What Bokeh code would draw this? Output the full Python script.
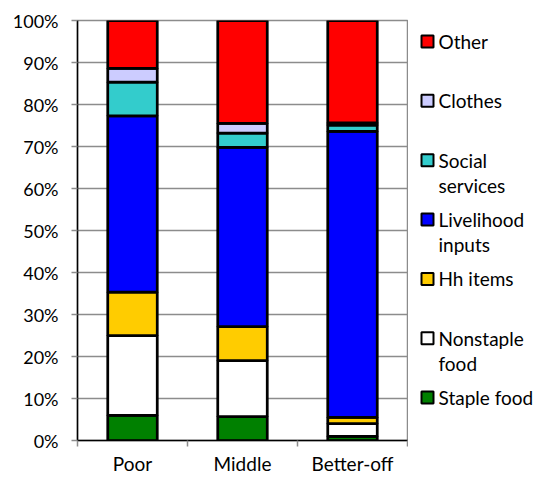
from bokeh.plotting import figure
from bokeh.layouts import row
from bokeh.models import Range1d, FixedTicker, NumeralTickFormatter, ColumnDataSource
from bokeh.core.properties import value
from bokeh.embed import file_html
from bokeh.resources import INLINE

categories = ["Poor", "Middle", "Better-off"]
series = ["Staple food", "Nonstaple food", "Hh items", "Livelihood inputs",
          "Social services", "Clothes", "Other"]
legend_labels = ["Staple food", "Nonstaple\nfood", "Hh items", "Livelihood\ninputs",
                 "Social\nservices", "Clothes", "Other"]
colors = ["#008000", "#FFFFFF", "#FFCC00", "#0000FF", "#33CCCC", "#CCCCFF", "#FF0000"]

staple_food = [6.0, 5.7, 1.0]
nonstaple_food = [19.0, 13.3, 3.0]
hh_items = [10.3, 8.1, 1.5]
livelihood_inputs = [42.0, 42.7, 68.1]
social_services = [8.0, 3.4, 1.5]
clothes = [3.3, 2.3, 0.5]
other = [11.4, 24.5, 24.4]

y_ticks = [i / 10 for i in range(11)]

FONT = "Lato"
values_list = [staple_food, nonstaple_food, hh_items, livelihood_inputs,
               social_services, clothes, other]

data = {"x": [i + 0.5 for i in range(len(categories))]}
for name, vals in zip(series, values_list):
    data[name] = [v / 100 for v in vals]
source = ColumnDataSource(data)

MAIN_W, H = 408, 477
FR_TOP, FR_BOT = 20, 441
p = figure(width=MAIN_W, height=H, x_range=Range1d(0, 3), y_range=Range1d(0, 1),
           output_backend="svg", toolbar_location=None,
           min_border_left=77, min_border_right=1, min_border_top=FR_TOP,
           min_border_bottom=H - FR_BOT)

p.vbar_stack(series, x="x", width=0.45, source=source, fill_color=colors,
             line_color="black", line_width=2.75)

p.xgrid.visible = False
p.ygrid.ticker = FixedTicker(ticks=y_ticks)
p.ygrid.grid_line_color = "#8c8c8c"
p.ygrid.grid_line_width = 1.5
p.outline_line_color = "#8c8c8c"
p.outline_line_width = 1.5

p.yaxis.ticker = FixedTicker(ticks=y_ticks)
p.yaxis.formatter = NumeralTickFormatter(format="0%")
p.yaxis.major_tick_out = 6
p.yaxis.major_tick_in = 0
p.yaxis.minor_tick_out = 0
p.yaxis.minor_tick_in = 0
p.yaxis.major_tick_line_color = "#8c8c8c"
p.yaxis.major_tick_line_width = 1.5
p.yaxis.axis_line_color = "black"
p.yaxis.axis_line_width = 1.5
p.yaxis.major_label_standoff = 13
p.yaxis.major_label_text_font = FONT
p.yaxis.major_label_text_font_size = "18px"
p.yaxis.major_label_text_color = "black"

p.xaxis.ticker = FixedTicker(ticks=data["x"], minor_ticks=list(range(len(categories) + 1)))
p.xaxis.major_label_overrides = {x: c for x, c in zip(data["x"], categories)}
p.xaxis.major_tick_out = 0
p.xaxis.major_tick_in = 0
p.xaxis.minor_tick_out = 6
p.xaxis.minor_tick_in = 0
p.xaxis.minor_tick_line_color = "#8c8c8c"
p.xaxis.minor_tick_line_width = 1.5
p.xaxis.axis_line_color = "black"
p.xaxis.axis_line_width = 1.5
p.xaxis.major_label_standoff = 5
p.xaxis.major_label_text_font = FONT
p.xaxis.major_label_text_font_size = "19px"
p.xaxis.major_label_text_color = "black"
p.xaxis.major_label_text_line_height = 0.8

# Legend panel (its frame is aligned with the main frame by the row layout;
# ranges are expressed in page pixels)
LW = 543 - MAIN_W
lg = figure(width=LW, height=H, x_range=Range1d(MAIN_W, 543), y_range=Range1d(FR_BOT, FR_TOP),
            output_backend="svg", toolbar_location=None,
            min_border_left=0, min_border_right=0, min_border_top=FR_TOP,
            min_border_bottom=H - FR_BOT, outline_line_color=None)
lg.axis.visible = False
lg.grid.visible = False

order = list(range(len(series)))[::-1]  # Other at top
first_y, step, line_gap = 41, 59.5, 25
marker_x, text_x = 427, 438
mx, my, tx, ty, tt, mc = [], [], [], [], [], []
for k, i in enumerate(order):
    y0 = first_y + k * step
    mx.append(marker_x)
    my.append(y0)
    mc.append(colors[i])
    for j, line in enumerate(legend_labels[i].split("\n")):
        tx.append(text_x)
        ty.append(y0 + j * line_gap)
        tt.append(line)

lg.scatter(x=mx, y=my, marker="square", size=12, fill_color=mc,
           line_color="black", line_width=2)
lg.text(x=tx, y=ty, text=tt, text_font=value(FONT), text_font_size="19px",
        text_baseline="middle", text_align="left", text_color="black")

layout = row(p, lg)
open("out.html", "w").write(file_html(layout, INLINE))
